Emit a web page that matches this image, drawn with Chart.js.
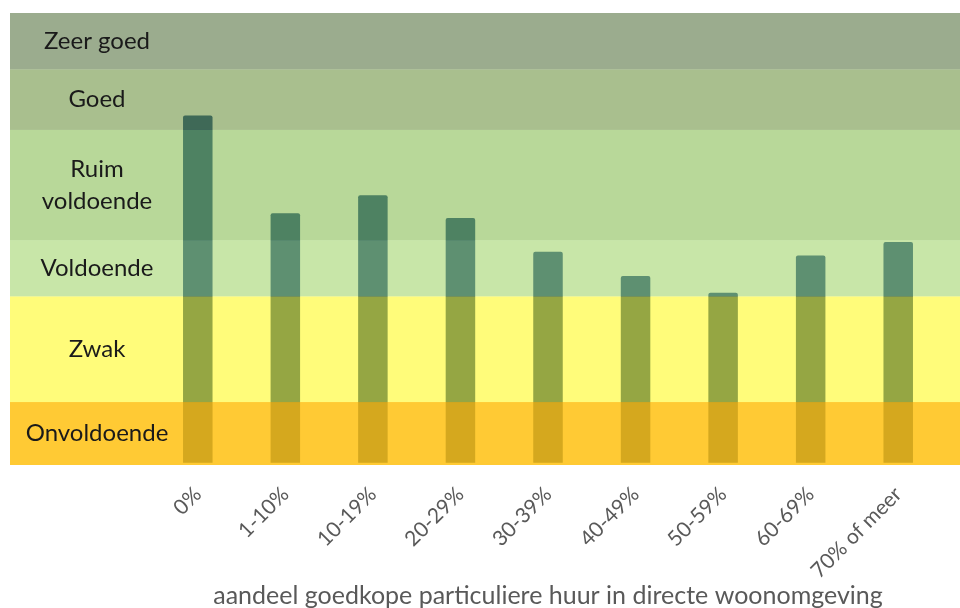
<!DOCTYPE html>
<html>
<head>
<meta charset="utf-8">
<script src="https://cdn.jsdelivr.net/npm/chart.js@4"></script>
<style>
  body { margin: 0; background: #fff; }
  #wrap { width: 960px; height: 608px; }
</style>
</head>
<body>
<div id="wrap"><canvas id="score-chart"></canvas></div>
<script>
const categories = ["0%", "1-10%", "10-19%", "20-29%", "30-39%", "40-49%", "50-59%", "60-69%", "70% of meer"];
const scores = [77.2, 55.5, 59.5, 54.4, 46.9, 41.5, 37.8, 46.1, 49.1];

// score classes, bottom to top
const bandLabels = ["Onvoldoende", "Zwak", "Voldoende", ["Ruim", "voldoende"], "Goed", "Zeer goed"];
const bandBounds = [-0.5, 13.5, 37, 49.5, 74, 87.5, 100];
const bandColors = [
  "rgba(255, 191, 8, 0.825)",
  "rgba(255, 250, 13, 0.55)",
  "rgba(155, 210, 97, 0.55)",
  "rgba(126, 184, 70, 0.55)",
  "rgba(99, 139, 50, 0.55)",
  "rgba(73, 103, 50, 0.55)",
];

const xTitle = "aandeel goedkope particuliere huur in directe woonomgeving";

// bands are painted over the bars, so the bars take the band tint
const bandsPlugin = {
  id: "bands",
  afterDatasetsDraw(chart) {
    const { ctx, scales: { y } } = chart;
    const left = 10;
    const right = chart.width;
    ctx.save();
    for (let i = 0; i < bandLabels.length; i++) {
      const top = y.getPixelForValue(bandBounds[i + 1]);
      const bottom = y.getPixelForValue(bandBounds[i]);
      ctx.fillStyle = bandColors[i];
      ctx.fillRect(left, top, right - left, bottom - top);
    }
    ctx.font = "24px Lato";
    ctx.fillStyle = "#1a1a1a";
    ctx.textAlign = "center";
    ctx.textBaseline = "middle";
    const labelX = 97;
    bandLabels.forEach((label, i) => {
      const mid = (y.getPixelForValue(bandBounds[i]) + y.getPixelForValue(bandBounds[i + 1])) / 2;
      const lines = Array.isArray(label) ? label : [label];
      const lineH = 32;
      lines.forEach((line, j) => {
        ctx.fillText(line, labelX, mid + (j - (lines.length - 1) / 2) * lineH);
      });
    });
    ctx.restore();
  },
};

const ctx = document.getElementById("score-chart").getContext("2d");
new Chart(ctx, {
  type: "bar",
  data: {
    labels: categories,
    datasets: [
      {
        data: scores,
        backgroundColor: "rgb(22, 64, 133)",
        barPercentage: 0.337,
        categoryPercentage: 1,
        borderRadius: { topLeft: 2, topRight: 2 },
        borderSkipped: "bottom",
      },
    ],
  },
  options: {
    responsive: true,
    maintainAspectRatio: false,
    animation: false,
    layout: { padding: { left: 154, right: 18, top: 13, bottom: 0 } },
    plugins: {
      legend: { display: false },
      tooltip: { enabled: false },
    },
    scales: {
      y: {
        display: false,
        min: -0.5,
        max: 100,
      },
      x: {
        grid: { display: false, drawTicks: false },
        border: { display: false },
        ticks: {
          color: "#595959",
          font: { family: "Lato", size: 21 },
          minRotation: 45,
          maxRotation: 45,
          padding: 17,
        },
        title: {
          display: true,
          text: xTitle,
          color: "#595959",
          font: { family: "Lato", size: 25, lineHeight: 1 },
          padding: 0,
        },
        afterFit(scale) {
          scale.height = 143;
        },
      },
    },
  },
  plugins: [bandsPlugin],
});
</script>
</body>
</html>
